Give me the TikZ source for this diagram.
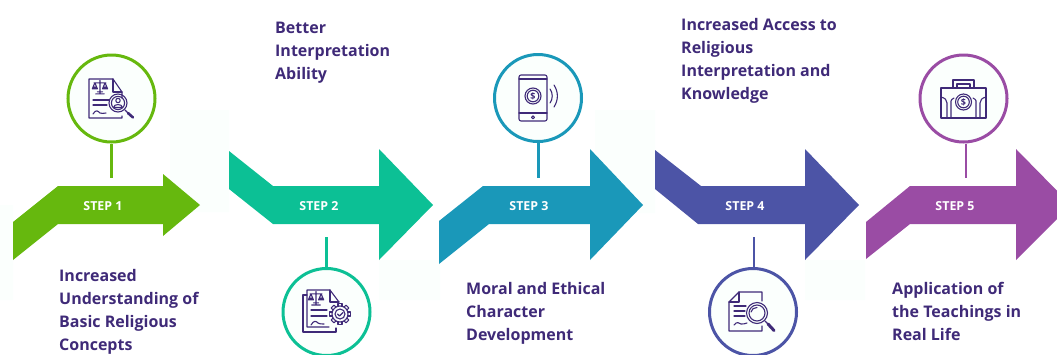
\documentclass[tikz,border=0pt]{standalone}
\usepackage{fontspec}
\setmainfont{Open Sans}
\definecolor{cgreen}{HTML}{66B80E}
\definecolor{cteal}{HTML}{0CC095}
\definecolor{cblue}{HTML}{1A98B9}
\definecolor{cindigo}{HTML}{4C54A6}
\definecolor{cpurple}{HTML}{9A4CA4}
\definecolor{ctext}{HTML}{3F2A78}
\definecolor{cpale}{HTML}{FBFFFD}
\tikzset{
  label text/.style={anchor=north west,align=left,inner sep=0pt,text=ctext,font=\fontsize{16}{23}\selectfont\bfseries},
  step label/.style={text=white,inner sep=0pt,font=\fontsize{12.4}{14}\selectfont\bfseries},
  ring/.style={circle,draw=#1,line width=3pt,fill=cpale,minimum size=87pt,inner sep=0pt},
  stem/.style={draw=#1,line width=2.6pt},
  icon/.style={draw=ctext,line width=1.1pt,line join=round,line cap=round},
  dollar/.style={text=ctext,inner sep=0pt,font=\fontsize{9}{9}\selectfont\bfseries}
}
\newcommand{\balance}[2]{%
  \draw[icon,shift={(#1,#2)}] (-7,-6) -- (7,-6) (0,-9) -- (0,7) (-5,7) -- (5,7) (-3,4.5) -- (3,4.5)
    (-6,-6) -- (-9,1) -- (-3,1) -- cycle (6,-6) -- (3,1) -- (9,1) -- cycle;
  \fill[ctext,shift={(#1,#2)}] (-9,1) arc[start angle=180,end angle=360,radius=3] -- cycle
    (3,1) arc[start angle=180,end angle=360,radius=3] -- cycle;}
\begin{document}
\begin{tikzpicture}[x=1pt,y=-1pt]
\useasboundingbox (0,0) rectangle (1057,354);
\clip (0,0) rectangle (1057,354);
% pale patches
\fill[cpale] (170,110) rectangle (229,212) (0,205) rectangle (13,300) (220,140) rectangle (229,212)
  (379,260) rectangle (440,300) (595,110) rectangle (655,213) (805,260) rectangle (865,300);
% arrows
\fill[cgreen] (13,222) -- (58,186) -- (163,186) -- (163,174) -- (200,205) -- (163,236) -- (163,224) -- (58,224) -- (13,260) -- cycle;
\fill[cteal] (229,151) -- (273,186) -- (379,186) -- (379,149) -- (433,205) -- (379,260) -- (379,224) -- (273,224) -- (229,189) -- cycle;
\fill[cblue] (439,221) -- (483,186) -- (590,186) -- (590,149) -- (643,205) -- (590,260) -- (590,224) -- (489,224) -- (439,264) -- cycle;
\fill[cindigo] (655,150) -- (701,186) -- (805,186) -- (805,149) -- (859,205) -- (805,260) -- (805,224) -- (698,224) -- (655,189) -- cycle;
\fill[cpurple] (866,222) -- (910,186) -- (1016,186) -- (1016,149) -- (1071,205) -- (1016,260) -- (1016,224) -- (910,224) -- (866,259) -- cycle;
% step labels
\node[step label] (s1) at (103,206) {STEP 1};
\node[step label] (s2) at (319,206) {STEP 2};
\node[step label] (s3) at (529,206) {STEP 3};
\node[step label] (s4) at (745,206) {STEP 4};
\node[step label] (s5) at (955,206) {STEP 5};
% free ends of stems
\coordinate (e1) at (111.5,178);
\coordinate (e2) at (326.5,237);
\coordinate (e3) at (538.5,178);
\coordinate (e4) at (754,237);
\coordinate (e5) at (966,178);
% rings
\node[ring=cgreen] (c1) at (111.5,98.5) {};
\node[ring=cteal] (c2) at (326.5,312) {};
\node[ring=cblue] (c3) at (538,98) {};
\node[ring=cindigo] (c4) at (753,312) {};
\node[ring=cpurple] (c5) at (963.5,98.5) {};
% stems
\draw[stem=cgreen] (c1.south -| e1) -- (e1);
\draw[stem=cteal] (c2.north -| e2) -- (e2);
\draw[stem=cblue] (c3.south -| e3) -- (e3);
\draw[stem=cindigo] (c4.north -| e4) -- (e4);
\draw[stem=cpurple] (c5.south -| e5) -- (e5);
% icon 1
\draw[icon] (122,98) -- (122,92) -- (113,79) -- (89,79) -- (89,118) -- (122,118) -- (122,116);
\draw[icon] (113,79) -- (113,92) -- (122,92);
\begin{scope}[scale=0.85,shift={(117.6,103.5)}]\balance{0}{0}\end{scope}
\draw[icon] (93,100) -- (109,100) (93,105) -- (107,105);
\draw[icon] (93,114) .. controls (96,109) and (98,111) .. (100,113) .. controls (102,115) and (103,112) .. (106,113);
\draw[icon] (118,103) circle[radius=9];
\draw[icon] (118,103) circle[radius=6.6];
\draw[icon] (118,100.5) circle[radius=2.2];
\draw[icon] (113.5,107.5) .. controls (114,103.5) and (122,103.5) .. (122.5,107.5) -- cycle;
\draw[icon] (125,110) -- (128,113);
\draw[icon,line width=2.6pt] (128,113) -- (133,117.5);
% icon 2
\draw[icon] (307,295) -- (303,295) -- (303,332) -- (336,332) -- (336,328);
\draw[icon] (339,302) -- (330,290) -- (307,290) -- (307,327) -- (329,327);
\draw[icon] (330,290) -- (330,302) -- (339,302);
\begin{scope}[scale=0.85,shift={(371.8,351.8)}]\balance{0}{0}\end{scope}
\draw[icon] (311,310) -- (327,310) (311,316) -- (327,316);
\draw[icon] (311,325) .. controls (314,320) and (316,321) .. (318,323) .. controls (320,325) and (321,323) .. (324,324);
\foreach \a in {0,45,...,315}{
  \draw[icon,fill=cpale,rotate around={\a:(340,314)}] (338,303.5) -- (342,303.5) -- (342,307) -- (338,307) -- cycle;}
\draw[icon,fill=cpale] (340,314) circle[radius=8];
\draw[icon] (340,314) circle[radius=5];
\draw[icon] (337.5,314) -- (339.5,316) -- (343,312.5);
% icon 3
\draw[icon,rounded corners=2pt] (519,75) rectangle (547,121);
\draw[icon] (519,79) -- (547,79) (519,113) -- (547,113);
\draw[icon] (533,117.3) circle[radius=1.5];
\draw[icon] (533,96) circle[radius=8];
\draw[icon] (533,96) circle[radius=5.8];
\node[dollar] (d3) at (533,96) {\$};
\draw[icon] (550,89) .. controls (553,93) and (553,99) .. (550,103);
\draw[icon] (554,85) .. controls (558.5,92) and (558.5,100) .. (554,107);
% icon 4
\draw[icon] (762,301) -- (762,292) -- (739,292) -- (729,302) -- (729,331) -- (762,331) -- (762,326);
\draw[icon] (739,292) -- (739,302) -- (729,302);
\draw[icon] (734,306) -- (746,306) (734,311) -- (745,311) (734,316) -- (745,316);
\draw[icon] (734,325) .. controls (737,321) and (739,323) .. (741,324) .. controls (743,325) and (745,323) .. (747,323);
\draw[icon,fill=cpale] (757,313) circle[radius=10.5];
\draw[icon] (757,313) circle[radius=8];
\draw[icon] (751,312) .. controls (751.5,309) and (754,307.5) .. (757,307.5);
\draw[icon] (765,321) -- (768,324);
\draw[icon,line width=3pt] (768,324) -- (774,330.5);
% icon 5
\draw[icon] (953,88) -- (953,80) -- (974,80) -- (974,88) (957,88) -- (957,84) -- (970,84) -- (970,88);
\draw[icon] (941,88) rectangle (986,118);
\draw[icon] (941,97) .. controls (945,98) and (947,100) .. (947,103) -- (947,118)
  (951,118) -- (951,101) .. controls (951,100) and (952,99) .. (954,98);
\draw[icon] (986,97) .. controls (982,98) and (980,100) .. (980,103) -- (980,118)
  (976,118) -- (976,101) .. controls (976,100) and (975,99) .. (973,98);
\draw[icon] (963.5,102) circle[radius=8];
\draw[icon] (963.5,102) circle[radius=5.8];
\node[dollar] (d5) at (963.5,102) {\$};
% texts
\node[label text] (t1) at (59,269) {Increased\\Understanding of\\Basic Religious\\Concepts};
\node[label text] (t2) at (275,22) {Better\\Interpretation\\Ability};
\node[label text] (t3) at (466,282) {Moral and Ethical\\Character\\Development};
\node[label text] (t4) at (681,18) {Increased Access to\\Religious\\Interpretation and\\Knowledge};
\node[label text] (t5) at (892,282) {Application of\\the Teachings in\\Real Life};
\end{tikzpicture}
\end{document}
